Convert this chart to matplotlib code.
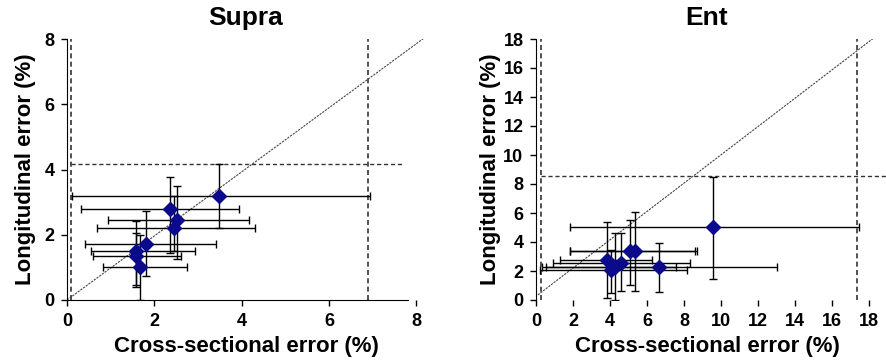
import matplotlib
matplotlib.use("Agg")
import matplotlib.pyplot as plt
import numpy as np

plt.rcParams['font.family'] = ['Liberation Sans', 'DejaVu Sans']
plt.rcParams['font.weight'] = 'bold'

# Supra: cross-sectional (x) vs longitudinal (y) error, %
supra_x = [3.48, 2.37, 2.53, 2.44, 1.80, 1.57, 1.57, 1.67]
supra_y = [3.20, 2.78, 2.45, 2.22, 1.72, 1.50, 1.35, 1.00]
supra_x_lo = [0.11, 0.31, 0.95, 0.69, 0.42, 0.56, 0.60, 0.83]
supra_x_hi = [6.93, 3.93, 4.17, 4.30, 3.41, 2.93, 2.62, 2.76]
supra_y_lo = [2.20, 1.45, 1.25, 1.50, 0.75, 0.46, 0.41, 0.00]
supra_y_hi = [4.17, 3.78, 3.48, 3.20, 2.73, 2.42, 2.04, 2.00]
supra_vlines = [0.1, 6.9]
supra_hline = 4.17

# Ent
ent_x = [9.60, 5.35, 5.09, 3.84, 4.62, 4.29, 4.04, 6.68]
ent_y = [5.02, 3.40, 3.40, 2.76, 2.58, 2.30, 2.07, 2.26]
ent_x_lo = [1.83, 1.83, 1.85, 1.30, 0.94, 0.54, 0.22, 0.31]
ent_x_hi = [17.45, 8.70, 8.60, 6.30, 8.33, 7.55, 8.19, 13.04]
ent_y_lo = [1.43, 0.62, 1.04, 0.12, 0.64, 0.00, 0.46, 0.53]
ent_y_hi = [8.45, 6.10, 5.52, 5.41, 4.60, 4.60, 3.45, 3.90]
ent_vlines = [0.27, 17.36]
ent_hline = 8.52


def panel(ax, x, y, xlo, xhi, ylo, yhi, vlines, hline, hline_end, diag):
    x = np.array(x); y = np.array(y)
    xerr = [x - np.array(xlo), np.array(xhi) - x]
    yerr = [y - np.array(ylo), np.array(yhi) - y]
    ax.plot(diag[0], diag[1], color='#444444', lw=0.8, ls=(0, (2, 1)), zorder=1)
    for v in vlines:
        ax.axvline(v, color='#333333', lw=1.2, ls=(0, (3, 2)), zorder=1)
    ax.plot([vlines[0], hline_end], [hline, hline], color='#333333', lw=1.0,
            ls=(0, (3, 2)), clip_on=False, zorder=1)
    ax.errorbar(x, y, xerr=xerr, yerr=yerr, fmt='none', ecolor='black',
                elinewidth=1.0, capsize=3, capthick=1.0, zorder=2)
    ax.plot(x, y, 'D', color='#0a0a8a', ms=7.5, zorder=3)
    for s in ['top', 'right']:
        ax.spines[s].set_visible(False)
    ax.tick_params(labelsize=13, direction='out', length=4, width=1, pad=5)
    for lab in ax.get_xticklabels() + ax.get_yticklabels():
        lab.set_fontweight('bold')


fig = plt.figure(figsize=(8.87, 3.6), dpi=100)

ax1 = fig.add_axes([67 / 887, 60 / 360, 358 / 887, 261 / 360])
panel(ax1, supra_x, supra_y, supra_x_lo, supra_x_hi, supra_y_lo, supra_y_hi,
      supra_vlines, supra_hline, 7.7, ([0, 8.2], [0, 8.05]))
ax1.set_xlim(0, 8.2)
ax1.set_ylim(0, 8)
ax1.set_xticks([0, 2, 4, 6, 8])
ax1.set_yticks([0, 2, 4, 6, 8])
ax1.spines['bottom'].set_bounds(0, 7.8)
ax1.set_title('Supra', fontsize=19, fontweight='bold', pad=10)
ax1.set_xlabel('Cross-sectional error (%)', fontsize=16, fontweight='bold', labelpad=5)
ax1.set_ylabel('Longitudinal error (%)', fontsize=16, fontweight='bold', labelpad=6)

ax2 = fig.add_axes([536 / 887, 60 / 360, 342 / 887, 261 / 360])
panel(ax2, ent_x, ent_y, ent_x_lo, ent_x_hi, ent_y_lo, ent_y_hi,
      ent_vlines, ent_hline, 19.2, ([0.1, 18.3], [0.35, 18.1]))
ax2.set_xlim(0, 18.5)
ax2.set_ylim(0, 18)
ax2.set_xticks(range(0, 19, 2))
ax2.set_yticks(range(0, 19, 2))
ax2.spines['bottom'].set_visible(False)
ax2.set_title('Ent', fontsize=19, fontweight='bold', pad=10)
ax2.set_xlabel('Cross-sectional error (%)', fontsize=16, fontweight='bold', labelpad=5)
ax2.set_ylabel('Longitudinal error (%)', fontsize=16, fontweight='bold', labelpad=2)

fig.savefig('out.png', dpi=100)
